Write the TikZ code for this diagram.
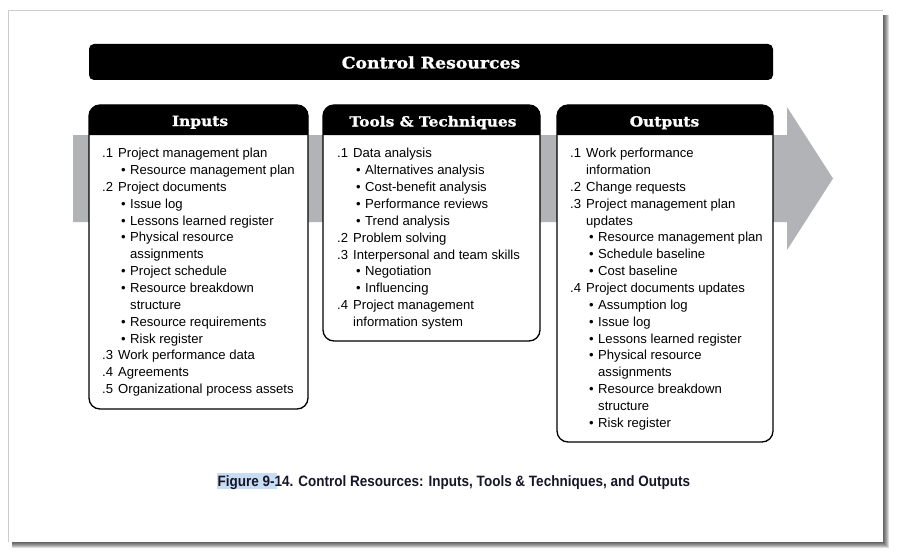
\documentclass[tikz,border=0pt]{standalone}
\usepackage{fontspec}
\setmainfont{Liberation Sans}
\newfontfamily\headfont{DejaVu Serif}[FakeStretch=1.1, FakeBold=1.2]
\newfontfamily\titlefont{DejaVu Serif}[FakeStretch=1.08, FakeBold=1.2]
\newfontfamily\capfont{Liberation Sans}[FakeStretch=0.9]
\definecolor{arrowgray}{RGB}{178,179,182}
\definecolor{captext}{RGB}{22,22,40}
\definecolor{selblue}{RGB}{200,221,243}
% list helpers: numbered entry, bullet entry, continuation lines
\newcommand\numit[2]{\makebox[16pt][l]{#1}#2}
\newcommand\bulit[1]{\hspace*{19pt}\makebox[9pt][l]{\textbullet}#1}
\newcommand\contn[1]{\hspace*{16pt}#1}
\newcommand\contb[1]{\hspace*{28pt}#1}
\tikzset{
  body/.style={anchor=north west, align=left, inner sep=0pt,
    font=\fontsize{13.1}{16.85}\selectfont},
  headtext/.style={anchor=base, inner sep=0pt, text=white,
    font=\headfont\bfseries\fontsize{14}{16}\selectfont},
  frame/.style={line width=1.3pt, rounded corners=11pt}
}
\newcommand\panel[3]{%
  \fill[white, rounded corners=11pt] (#1,105) rectangle (#2,#3);
  \fill (#1,135) [rounded corners=11pt] -- (#1,105) -- (#2,105) [sharp corners] -- (#2,135) -- cycle;
  \draw[frame] (#1,105) rectangle (#2,#3);
}
\begin{document}
\begin{tikzpicture}[x=1pt,y=-1pt]
\useasboundingbox (0,0) rectangle (901,559);
% page with drop shadow
\foreach \k in {1,...,6}
  \fill[black, opacity=0.14] (12,15) rectangle (883+\k,542+\k);
\fill[white] (8,10) rectangle (883,542);
\draw[gray!40, line width=0.6pt] (8,542) -- (8,10) -- (883,10);
% title bar
\fill[rounded corners=5pt] (89,44) rectangle (773,80);
\node[headtext, font=\titlefont\bfseries\fontsize{16}{19}\selectfont] (title) at (431,68.5) {Control Resources};
% process arrow behind the panels
\fill[arrowgray] (73,135) -- (787,135) -- (787,107) -- (833,178.5) -- (787,250) -- (787,222) -- (73,222) -- cycle;
% panels
\panel{89}{308}{409}
\panel{323}{540}{341}
\panel{557}{773}{442}
\node[headtext] (inhead) at (200,126) {Inputs};
\node[headtext] (tthead) at (433,126.5) {Tools \& Techniques};
\node[headtext] (outhead) at (664.5,126.5) {Outputs};
% panel contents
\node[body] (inlist) at (102,145.5) {\rule{0pt}{12pt}%
\numit{.1}{Project management plan}\\
\bulit{Resource management plan}\\
\numit{.2}{Project documents}\\
\bulit{Issue log}\\
\bulit{Lessons learned register}\\
\bulit{Physical resource}\\
\contb{assignments}\\
\bulit{Project schedule}\\
\bulit{Resource breakdown}\\
\contb{structure}\\
\bulit{Resource requirements}\\
\bulit{Risk register}\\
\numit{.3}{Work performance data}\\
\numit{.4}{Agreements}\\
\numit{.5}{Organizational process assets}};
\node[body] (ttlist) at (337,145.7) {\rule{0pt}{12pt}%
\numit{.1}{Data analysis}\\
\bulit{Alternatives analysis}\\
\bulit{Cost-benefit analysis}\\
\bulit{Performance reviews}\\
\bulit{Trend analysis}\\
\numit{.2}{Problem solving}\\
\numit{.3}{Interpersonal and team skills}\\
\bulit{Negotiation}\\
\bulit{Influencing}\\
\numit{.4}{Project management}\\
\contn{information system}};
\node[body] (outlist) at (570,145.5) {\rule{0pt}{12pt}%
\numit{.1}{Work performance}\\
\contn{information}\\
\numit{.2}{Change requests}\\
\numit{.3}{Project management plan}\\
\contn{updates}\\
\bulit{Resource management plan}\\
\bulit{Schedule baseline}\\
\bulit{Cost baseline}\\
\numit{.4}{Project documents updates}\\
\bulit{Assumption log}\\
\bulit{Issue log}\\
\bulit{Lessons learned register}\\
\bulit{Physical resource}\\
\contb{assignments}\\
\bulit{Resource breakdown}\\
\contb{structure}\\
\bulit{Risk register}};
% caption with selection highlight
\fill[selblue] (217,472.5) rectangle (277,489);
\node[anchor=base west, inner sep=0pt, text=captext,
  font=\capfont\bfseries\fontsize{15}{17}\selectfont] (caption) at (217.5,486)
  {Figure 9-14. Control Resources: Inputs, Tools \& Techniques, and Outputs};
\end{tikzpicture}
\end{document}
